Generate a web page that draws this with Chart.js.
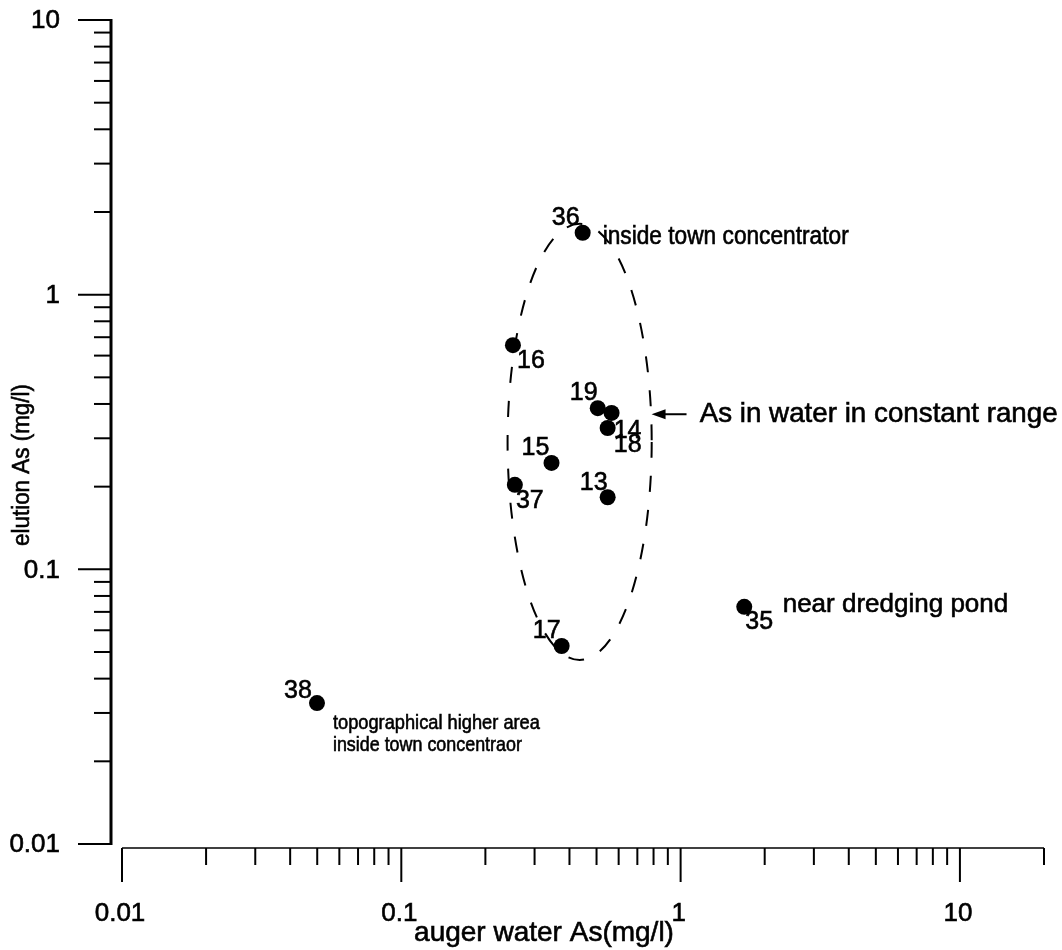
<!DOCTYPE html>
<html>
<head>
<meta charset="utf-8">
<script src="https://cdn.jsdelivr.net/npm/chart.js@4/dist/chart.umd.min.js"></script>
<style>
  html, body { margin: 0; padding: 0; background: #ffffff; }
  #wrap { width: 1062px; height: 950px; }
</style>
</head>
<body>
<div id="wrap"><canvas id="c" width="1062" height="950"></canvas></div>
<script>
// ---------------- data ----------------
const sampleIds  = ['36', '16', '19', '14', '18', '15', '37', '13', '17', '35', '38'];
const augerAs    = [0.446, 0.251, 0.505, 0.566, 0.548, 0.345, 0.255, 0.548, 0.375, 1.69, 0.0499];
const elutionAs  = [1.68, 0.655, 0.386, 0.371, 0.327, 0.244, 0.203, 0.183, 0.0526, 0.0730, 0.0326];

const xRange = [0.01, 20];
const yRange = [0.01, 10];
const xTickValues = [0.01, 0.1, 1, 10];
const xTickLabels = ['0.01', '0.1', '1', '10'];
const yTickValues = [0.01, 0.1, 1, 10];
const yTickLabels = ['0.01', '0.1', '1', '10'];

const xTitle = 'auger water As(mg/l)';
const yTitle = 'elution As (mg/l)';

// annotation texts with their anchor in data units
const noteTexts = [
  ['inside town concentrator'],
  ['near dredging pond'],
  ['topographical higher area', 'inside town concentraor'],
  ['As in water in constant range']
];
const noteAnchorX = [0.526, 2.32, 0.0569, 1.17];
const noteAnchorY = [1.528, 0.070, 0.0262, 0.367];

// dashed ellipse around the group: centre (data) and half-spans in decades
const ellipseCentre = [0.435, 0.291];
const ellipseSpanDecades = [0.258, 0.794];
// arrow pointing at the ellipse: from / to (data)
const arrowFromX = 1.05, arrowToX = 0.787, arrowY = 0.367;

// ---------------- styles / label placement ----------------
const labelOffset = {
  '36': [-17, -16], '16': [18, 15], '19': [-14, -16], '14': [16, 17],
  '18': [20, 16], '15': [-16, -16], '37': [15, 15], '13': [-14, -15],
  '17': [-15, -16], '35': [15, 14], '38': [-19, -13]
};
const noteStyle = [
  { size: 25, maxW: [246], lineH: 0, baseline: 'alphabetic' },
  { size: 26, maxW: [240], lineH: 0, baseline: 'alphabetic' },
  { size: 21, maxW: [207, 189], lineH: 22, baseline: 'alphabetic' },
  { size: 28, maxW: [358], lineH: 0, baseline: 'middle' }
];
const FONT = '"Liberation Sans", Arial, Helvetica, sans-serif';
const TEXT_STROKE = 0.6;

const points = augerAs.map((v, i) => ({ x: v, y: elutionAs[i], id: sampleIds[i] }));

function drawText(ctx, t, x, y, maxW) {
  if (maxW) {
    ctx.fillText(t, x, y, maxW);
    ctx.strokeText(t, x, y, maxW);
  } else {
    ctx.fillText(t, x, y);
    ctx.strokeText(t, x, y);
  }
}

const decorPlugin = {
  id: 'decor',
  afterDatasetsDraw(chart) {
    const ctx = chart.ctx;
    const xs = chart.scales.x, ys = chart.scales.y;
    const ca = chart.chartArea;
    ctx.save();
    ctx.strokeStyle = '#000';
    ctx.fillStyle = '#000';

    // ---- y axis (offset left of plot) ----
    const axX = ca.left - 11;
    const yTop = ys.getPixelForValue(yRange[1]);
    const yBot = ys.getPixelForValue(yRange[0]);
    ctx.lineWidth = 3;
    ctx.beginPath(); ctx.moveTo(axX, yTop - 1); ctx.lineTo(axX, yBot + 1); ctx.stroke();
    ctx.lineWidth = 2;
    for (let d = yRange[0]; d < yRange[1] * 1.0001; d *= 10) {
      for (let m = 1; m <= 9; m++) {
        const v = d * m;
        if (v > yRange[1] * 1.0001) break;
        const py = ys.getPixelForValue(v);
        const len = m === 1 ? 33 : 17;
        ctx.beginPath(); ctx.moveTo(axX - len, py); ctx.lineTo(axX, py); ctx.stroke();
      }
    }
    ctx.lineWidth = TEXT_STROKE;
    ctx.font = '26px ' + FONT;
    ctx.textAlign = 'right';
    ctx.textBaseline = 'middle';
    yTickValues.forEach((v, i) => {
      drawText(ctx, yTickLabels[i], 60, ys.getPixelForValue(v) + 1);
    });

    // ---- x axis (offset below plot) ----
    const axY = ca.bottom + 4;
    const xL = xs.getPixelForValue(xRange[0]);
    const xR = xs.getPixelForValue(xRange[1]);
    ctx.lineWidth = 1.5;
    ctx.beginPath(); ctx.moveTo(xL, axY); ctx.lineTo(xR, axY); ctx.stroke();
    ctx.lineWidth = 2;
    for (let d = xRange[0]; d < xRange[1]; d *= 10) {
      for (let m = 1; m <= 9; m++) {
        const v = d * m;
        if (v > xRange[1] * 1.0001) break;
        const px = xs.getPixelForValue(v);
        const len = m === 1 ? 34 : 17;
        ctx.beginPath(); ctx.moveTo(px, axY); ctx.lineTo(px, axY + len); ctx.stroke();
      }
    }
    ctx.lineWidth = TEXT_STROKE;
    ctx.font = '26px ' + FONT;
    ctx.textAlign = 'center';
    ctx.textBaseline = 'middle';
    xTickValues.forEach((v, i) => {
      drawText(ctx, xTickLabels[i], xs.getPixelForValue(v) - 2, 914);
    });

    // ---- axis titles ----
    ctx.font = '28px ' + FONT;
    ctx.textAlign = 'center';
    ctx.textBaseline = 'alphabetic';
    drawText(ctx, xTitle, 544, 941, 262);
    ctx.save();
    ctx.translate(29, 465);
    ctx.rotate(-Math.PI / 2);
    ctx.font = '23px ' + FONT;
    ctx.textAlign = 'center';
    ctx.textBaseline = 'alphabetic';
    drawText(ctx, yTitle, 0, 0, 162);
    ctx.restore();

    // ---- dashed ellipse ----
    const cxp = xs.getPixelForValue(ellipseCentre[0]);
    const cyp = ys.getPixelForValue(ellipseCentre[1]);
    const rxp = xs.getPixelForValue(ellipseCentre[0] * Math.pow(10, ellipseSpanDecades[0])) - cxp;
    const ryp = cyp - ys.getPixelForValue(ellipseCentre[1] * Math.pow(10, ellipseSpanDecades[1]));
    ctx.lineWidth = 2;
    ctx.setLineDash([16, 18]);
    ctx.beginPath();
    ctx.ellipse(cxp, cyp, rxp, ryp, 0, 0, Math.PI * 2);
    ctx.stroke();
    ctx.setLineDash([]);

    // ---- arrow ----
    const ax0 = xs.getPixelForValue(arrowFromX);
    const ax1 = xs.getPixelForValue(arrowToX);
    const ayp = ys.getPixelForValue(arrowY);
    ctx.lineWidth = 2;
    ctx.beginPath(); ctx.moveTo(ax0, ayp); ctx.lineTo(ax1 + 8, ayp); ctx.stroke();
    ctx.beginPath();
    ctx.moveTo(ax1, ayp);
    ctx.lineTo(ax1 + 14, ayp - 5);
    ctx.lineTo(ax1 + 14, ayp + 5);
    ctx.closePath();
    ctx.fill();

    // ---- annotation texts ----
    ctx.lineWidth = TEXT_STROKE;
    ctx.textAlign = 'left';
    noteTexts.forEach((lines, i) => {
      const st = noteStyle[i];
      ctx.font = st.size + 'px ' + FONT;
      ctx.textBaseline = st.baseline;
      const px = xs.getPixelForValue(noteAnchorX[i]);
      const py = ys.getPixelForValue(noteAnchorY[i]);
      lines.forEach((t, k) => drawText(ctx, t, px, py + k * st.lineH, st.maxW[k]));
    });

    // ---- point labels ----
    ctx.font = '25px ' + FONT;
    ctx.textAlign = 'center';
    ctx.textBaseline = 'middle';
    points.forEach(p => {
      const off = labelOffset[p.id] || [0, 0];
      drawText(ctx, p.id, xs.getPixelForValue(p.x) + off[0], ys.getPixelForValue(p.y) + off[1] + 1);
    });
    ctx.restore();
  }
};

new Chart(document.getElementById('c'), {
  type: 'scatter',
  data: {
    datasets: [{
      data: points,
      pointRadius: 8,
      pointHoverRadius: 8,
      backgroundColor: '#000',
      borderWidth: 0,
      clip: false
    }]
  },
  options: {
    responsive: false,
    animation: false,
    events: [],
    layout: { padding: { left: 122, right: 18, top: 20, bottom: 106 } },
    plugins: { legend: { display: false }, tooltip: { enabled: false } },
    scales: {
      x: { type: 'logarithmic', min: xRange[0], max: xRange[1], display: false },
      y: { type: 'logarithmic', min: yRange[0], max: yRange[1], display: false }
    }
  },
  plugins: [decorPlugin]
});
</script>
</body>
</html>
